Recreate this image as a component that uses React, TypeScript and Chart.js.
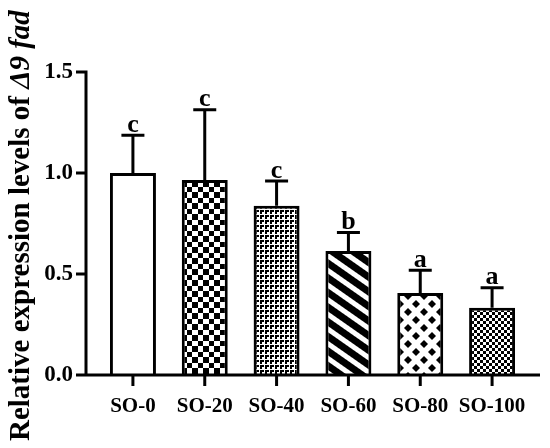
import React, { useEffect, useRef } from "react";
import { Chart, registerables } from "chart.js";

Chart.register(...registerables);

const categories = ["SO-0", "SO-20", "SO-40", "SO-60", "SO-80", "SO-100"];
const means = [1.0, 0.965, 0.838, 0.614, 0.406, 0.333];
const errors = [0.187, 0.348, 0.122, 0.092, 0.112, 0.099];
const letters = ["c", "c", "c", "b", "a", "a"];
const yTicks = [0, 0.5, 1.0, 1.5];
const titleMain = "Relative expression levels of ";
const titleItalic = "\u03949 fad";

const FONT = "'Liberation Serif', 'Times New Roman', serif";

function tile(w: number, h: number, draw: (g: CanvasRenderingContext2D) => void) {
  const c = document.createElement("canvas");
  c.width = w;
  c.height = h;
  const g = c.getContext("2d")!;
  g.fillStyle = "#fff";
  g.fillRect(0, 0, w, h);
  g.fillStyle = "#000";
  draw(g);
  return c;
}

function makePatterns(ctx: CanvasRenderingContext2D): (string | CanvasPattern)[] {
  const checker = ctx.createPattern(
    tile(11, 11, (g) => {
      g.fillRect(0, 0, 5, 5);
      g.fillRect(5, 5, 6, 6);
    }),
    "repeat"
  )!;
  const gamma = ctx.createPattern(
    tile(5, 5, (g) => {
      g.fillRect(0, 0, 4, 2);
      g.fillRect(0, 2, 2, 2);
    }),
    "repeat"
  )!;
  const stripes = ctx.createPattern(
    tile(12, 12, (g) => {
      g.fillRect(0, 0, 12, 7);
    }),
    "repeat"
  )!;
  stripes.setTransform(new DOMMatrix().rotate(35));
  const diamonds = ctx.createPattern(
    tile(16, 16, (g) => {
      const d = (cx: number, cy: number, r: number) => {
        g.beginPath();
        g.moveTo(cx, cy - r);
        g.lineTo(cx + r, cy);
        g.lineTo(cx, cy + r);
        g.lineTo(cx - r, cy);
        g.closePath();
        g.fill();
      };
      d(8, 8, 4);
      d(0, 0, 4);
      d(16, 0, 4);
      d(0, 16, 4);
      d(16, 16, 4);
    }),
    "repeat"
  )!;
  const fine = ctx.createPattern(
    tile(6, 6, (g) => {
      g.fillRect(0, 0, 3, 3);
      g.fillRect(3, 3, 3, 3);
    }),
    "repeat"
  )!;
  return ["#ffffff", checker, gamma, stripes, diamonds, fine];
}

const overlay = {
  id: "overlay",
  afterDatasetsDraw(chart: any) {
    const { ctx, chartArea } = chart;
    const xs = chart.scales.x;
    const ys = chart.scales.y;
    const meta = chart.getDatasetMeta(0);
    ctx.save();
    ctx.strokeStyle = "#000";
    ctx.fillStyle = "#000";
    ctx.lineWidth = 3;
    ctx.lineCap = "butt";
    meta.data.forEach((bar: any, i: number) => {
      const x = bar.x;
      const yTop = bar.y;
      const yErr = ys.getPixelForValue(means[i] + errors[i]);
      ctx.beginPath();
      ctx.moveTo(x, yTop);
      ctx.lineTo(x, yErr);
      ctx.moveTo(x - 11.5, yErr);
      ctx.lineTo(x + 11.5, yErr);
      ctx.stroke();
      ctx.font = `bold 26px ${FONT}`;
      ctx.textAlign = "center";
      ctx.textBaseline = "alphabetic";
      ctx.fillText(letters[i], x, yErr - 3.5);
    });
    const axX = chartArea.left - 11;
    const y0 = ys.getPixelForValue(0);
    const yMax = ys.getPixelForValue(yTicks[yTicks.length - 1]);
    ctx.beginPath();
    ctx.moveTo(axX, yMax - 1.5);
    ctx.lineTo(axX, y0 + 1.5);
    ctx.moveTo(axX - 1.5, y0);
    ctx.lineTo(chartArea.right + 12, y0);
    yTicks.forEach((v) => {
      const py = ys.getPixelForValue(v);
      ctx.moveTo(axX - 10, py);
      ctx.lineTo(axX, py);
    });
    categories.forEach((_, i) => {
      const px = xs.getPixelForValue(i);
      ctx.moveTo(px, y0);
      ctx.lineTo(px, y0 + 11);
    });
    ctx.stroke();
    ctx.restore();
  },
  afterDraw(chart: any) {
    const { ctx } = chart;
    ctx.save();
    ctx.translate(29, 441);
    ctx.rotate(-Math.PI / 2);
    ctx.fillStyle = "#000";
    ctx.textAlign = "left";
    ctx.textBaseline = "alphabetic";
    ctx.font = `bold 29px ${FONT}`;
    ctx.fillText(titleMain, 0, 0);
    const w = ctx.measureText(titleMain).width;
    ctx.font = `italic bold 29px ${FONT}`;
    ctx.fillText(titleItalic, w, 0);
    ctx.restore();
  },
};

export default function App() {
  const ref = useRef<HTMLCanvasElement>(null);
  useEffect(() => {
    document.body.style.margin = "0";
    const canvas = ref.current!;
    const ctx = canvas.getContext("2d")!;
    const patterns = makePatterns(ctx);
    const chart = new Chart(canvas, {
      type: "bar",
      data: {
        labels: categories,
        datasets: [
          {
            data: means,
            backgroundColor: patterns as any,
            borderColor: "#000",
            borderWidth: 3,
            borderSkipped: "bottom",
            categoryPercentage: 0.64,
            barPercentage: 1,
          },
        ],
      },
      options: {
        responsive: false,
        animation: false,
        layout: { padding: { left: 40, right: 22, top: 72, bottom: 23 } },
        plugins: { legend: { display: false }, tooltip: { enabled: false } },
        scales: {
          x: {
            grid: { display: false, drawTicks: false },
            border: { display: false },
            ticks: {
              color: "#000",
              padding: 19,
              maxRotation: 0,
              minRotation: 0,
              autoSkip: false,
              font: { family: FONT, size: 21, weight: "bold" },
            },
            afterFit: (s: any) => {
              s.height = 50;
            },
          },
          y: {
            min: 0,
            max: 1.5,
            grid: { display: false, drawTicks: false },
            border: { display: false },
            afterBuildTicks: (s: any) => {
              s.ticks = yTicks.map((v) => ({ value: v }));
            },
            ticks: {
              color: "#000",
              padding: 24,
              font: { family: FONT, size: 23, weight: "bold" },
              callback: (v: any) => Number(v).toFixed(1),
            },
            afterFit: (s: any) => {
              s.width = 57;
            },
          },
        },
      },
      plugins: [overlay],
    });
    return () => chart.destroy();
  }, []);
  return (
    <div style={{ width: 550, height: 448 }}>
      <canvas ref={ref} width={550} height={448} style={{ display: "block" }} />
    </div>
  );
}
